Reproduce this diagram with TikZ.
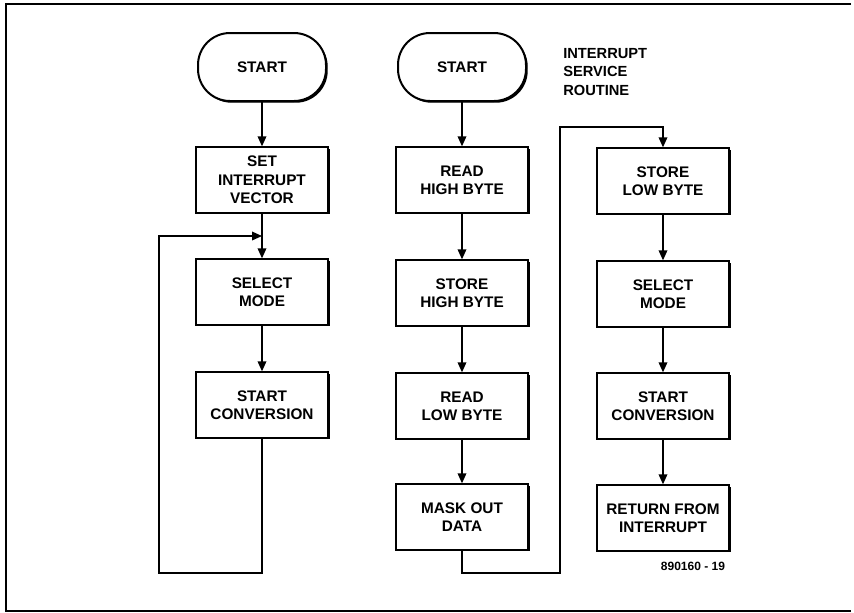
\documentclass[tikz,border=0pt]{standalone}
\usepackage{fontspec}
\setmainfont{Liberation Sans}
\usepackage{tikz}
\usetikzlibrary{arrows.meta,positioning,shadows,calc}

\tikzset{
  stepbox/.style={draw=black,line width=1.5pt,fill=white,minimum width=99pt,
    minimum height=49pt,align=center,inner sep=2pt,
    font=\bfseries\fontsize{11.5}{13.8}\selectfont,
    drop shadow={shadow xshift=1.3pt,shadow yshift=-1.3pt,opacity=1,fill=black}},
  termbox/.style={stepbox,rounded corners=24pt,minimum width=96pt,minimum height=51pt},
  flow/.style={line width=1pt,-{Triangle[length=7.5pt,width=6.5pt]}},
  frameline/.style={line width=1.1pt}
}

\begin{document}
\begin{tikzpicture}[x=0.75pt,y=-0.75pt]
\useasboundingbox (0,0) rectangle (854,612);
% frame
\draw[frameline] (851,4) -- (6,4) -- (6,611) -- (851,611);

% main program
\node[termbox] (start1) at (262,67) {START};
\node[stepbox] (setvec) at (262,180) {SET\\INTERRUPT\\VECTOR};
\node[stepbox] (selmode1) at (262,292) {SELECT\\MODE};
\node[stepbox] (startconv1) at (262,405) {START\\CONVERSION};

% interrupt service routine
\node[termbox] (start2) at (462,67) {START};
\node[stepbox] (readhi) at (462,180) {READ\\HIGH BYTE};
\node[stepbox] (storehi) at (462,293) {STORE\\HIGH BYTE};
\node[stepbox] (readlo) at (462,406) {READ\\LOW BYTE};
\node[stepbox] (mask) at (462,517) {MASK OUT\\DATA};

\node[stepbox] (storelo) at (663,181) {STORE\\LOW BYTE};
\node[stepbox] (selmode2) at (663,294) {SELECT\\MODE};
\node[stepbox] (startconv2) at (663,406) {START\\CONVERSION};
\node[stepbox] (reti) at (663,518) {RETURN FROM\\INTERRUPT};

% labels
\node[anchor=west,align=left,inner sep=0pt,font=\bfseries\fontsize{11}{13.8}\selectfont]
  (isr) at (563,72) {INTERRUPT\\SERVICE\\ROUTINE};
\node[inner sep=0pt,font=\bfseries\fontsize{9}{10}\selectfont] (figno) at (693,566) {890160 - 19};

% loop points
\coordinate (join1) at ($(setvec.south)!.5!(selmode1.north)$);
\coordinate (loop1) at (159,573);
\coordinate (loop2) at (560,573);
\coordinate (top2) at (storelo.north |- 0,127);

% connectors
\draw[flow] (start1) -- (setvec);
\draw[flow] (setvec) -- (selmode1);
\draw[flow] (selmode1) -- (startconv1);
\draw[flow] (startconv1.south) |- (loop1) |- (join1);

\draw[flow] (start2) -- (readhi);
\draw[flow] (readhi) -- (storehi);
\draw[flow] (storehi) -- (readlo);
\draw[flow] (readlo) -- (mask);
\draw[flow] (mask.south) |- (loop2) |- (top2) -- (storelo.north);

\draw[flow] (storelo) -- (selmode2);
\draw[flow] (selmode2) -- (startconv2);
\draw[flow] (startconv2) -- (reti);
\end{tikzpicture}
\end{document}
